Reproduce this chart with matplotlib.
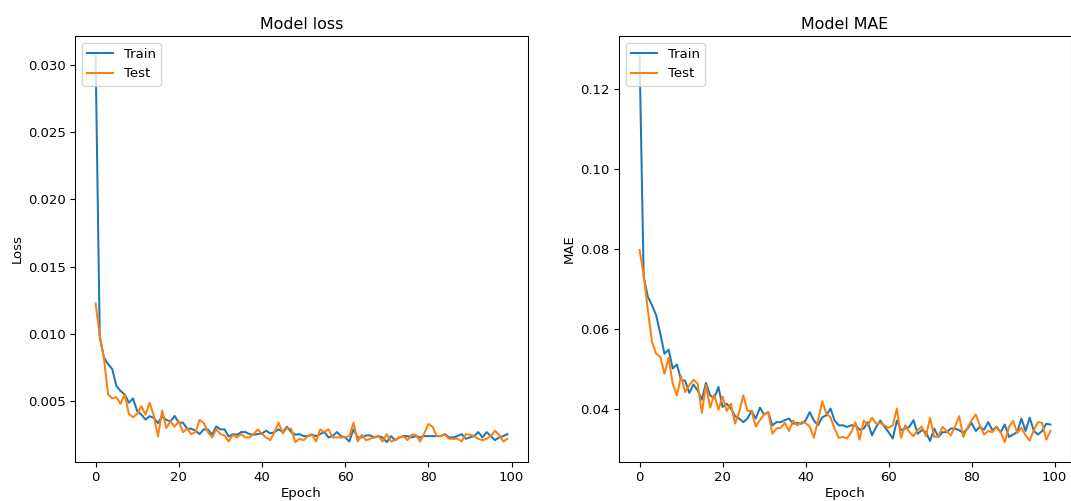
import matplotlib
matplotlib.use("Agg")
import matplotlib.pyplot as plt
import numpy as np

epochs = list(range(100))

train_loss = [
    0.0307, 0.00975, 0.00825, 0.00775, 0.00738, 0.00613, 0.00575, 0.0055, 0.00488, 0.0052,
    0.00425, 0.0040, 0.00363, 0.00388, 0.00375, 0.00337, 0.00388, 0.0036, 0.0035, 0.0039,
    0.0034, 0.0034, 0.00295, 0.00295, 0.0028, 0.00255, 0.0029, 0.0029, 0.0025, 0.00312,
    0.0029, 0.0029, 0.00237, 0.00255, 0.0025, 0.0027, 0.0027, 0.00255, 0.0025, 0.00255,
    0.0026, 0.0028, 0.0026, 0.0027, 0.0029, 0.0027, 0.0031, 0.0027, 0.0025, 0.00255,
    0.0024, 0.0024, 0.0025, 0.0024, 0.00255, 0.0027, 0.0023, 0.0024, 0.0027, 0.0024,
    0.0023, 0.0020, 0.0029, 0.0023, 0.0023, 0.00245, 0.00245, 0.0023, 0.0024, 0.0023,
    0.00195, 0.0024, 0.0021, 0.0023, 0.0024, 0.0024, 0.0023, 0.0024, 0.0023, 0.0024,
    0.0024, 0.0024, 0.0024, 0.0024, 0.00255, 0.0023, 0.0023, 0.0024, 0.00255, 0.0022,
    0.0023, 0.0024, 0.0027, 0.0023, 0.0027, 0.0024, 0.0021, 0.0023, 0.0024, 0.00255,
]

test_loss = [
    0.01226, 0.00988, 0.0082, 0.0055, 0.0052, 0.0053, 0.0048, 0.0055, 0.00405, 0.0038,
    0.00405, 0.00462, 0.0040, 0.00488, 0.0039, 0.00237, 0.0043, 0.0030, 0.0035, 0.0031,
    0.0035, 0.0027, 0.00295, 0.00255, 0.0027, 0.0036, 0.00337, 0.0027, 0.0023, 0.0029,
    0.00255, 0.00245, 0.0020, 0.0025, 0.0023, 0.00255, 0.0023, 0.0023, 0.00255, 0.0029,
    0.00255, 0.0023, 0.0021, 0.0027, 0.0034, 0.0026, 0.0030, 0.00295, 0.00195, 0.0022,
    0.0021, 0.0024, 0.00255, 0.0020, 0.0029, 0.0027, 0.0029, 0.0023, 0.0023, 0.0023,
    0.0023, 0.0024, 0.0034, 0.0020, 0.0025, 0.0021, 0.0022, 0.0023, 0.0024, 0.0020,
    0.00255, 0.0020, 0.0021, 0.0023, 0.0024, 0.0021, 0.0025, 0.0025, 0.0020, 0.0026,
    0.0033, 0.0031, 0.0024, 0.0024, 0.0025, 0.0022, 0.0022, 0.0022, 0.0020, 0.00255,
    0.0025, 0.0024, 0.0022, 0.0021, 0.0022, 0.0024, 0.0028, 0.0025, 0.0020, 0.0022,
]

train_mae = [
    0.1284, 0.0731, 0.0681, 0.0660, 0.0635, 0.0589, 0.0539, 0.0549, 0.0502, 0.0512,
    0.0474, 0.0471, 0.0441, 0.0462, 0.0447, 0.0424, 0.0466, 0.0435, 0.0427, 0.0456,
    0.0406, 0.0414, 0.0402, 0.0383, 0.0377, 0.0368, 0.0377, 0.0396, 0.0377, 0.0404,
    0.0387, 0.0393, 0.0360, 0.0368, 0.0368, 0.0373, 0.0377, 0.0364, 0.0366, 0.0364,
    0.0372, 0.0393, 0.0372, 0.0360, 0.0380, 0.0385, 0.0402, 0.0372, 0.0360, 0.0360,
    0.0356, 0.0360, 0.0360, 0.0349, 0.0352, 0.0368, 0.0335, 0.0356, 0.0372, 0.0357,
    0.0343, 0.0327, 0.0372, 0.0348, 0.0352, 0.0356, 0.0373, 0.0339, 0.0348, 0.0343,
    0.0321, 0.0352, 0.0331, 0.0343, 0.0343, 0.0352, 0.0352, 0.0348, 0.0341, 0.0352,
    0.0366, 0.0346, 0.0356, 0.0349, 0.0368, 0.0348, 0.0356, 0.0343, 0.0362, 0.0331,
    0.0337, 0.0343, 0.0377, 0.0346, 0.0379, 0.0346, 0.0337, 0.0346, 0.0364, 0.0362,
]

test_mae = [
    0.0798, 0.0735, 0.0648, 0.0568, 0.0539, 0.0531, 0.0489, 0.0529, 0.0464, 0.0435,
    0.0483, 0.0443, 0.0460, 0.0474, 0.0464, 0.0391, 0.0460, 0.0404, 0.0437, 0.0399,
    0.0432, 0.0396, 0.0414, 0.0364, 0.0393, 0.0435, 0.0396, 0.0396, 0.0357, 0.0373,
    0.0387, 0.0393, 0.0339, 0.0352, 0.0354, 0.0366, 0.0346, 0.0372, 0.0360, 0.0368,
    0.0366, 0.0357, 0.0329, 0.0372, 0.0420, 0.0390, 0.0380, 0.0352, 0.0329, 0.0331,
    0.0327, 0.0343, 0.0368, 0.0324, 0.0372, 0.0360, 0.0379, 0.0364, 0.0366, 0.0360,
    0.0354, 0.0360, 0.0402, 0.0329, 0.0360, 0.0343, 0.0333, 0.0348, 0.0357, 0.0333,
    0.0379, 0.0331, 0.0333, 0.0356, 0.0346, 0.0335, 0.0357, 0.0383, 0.0331, 0.0354,
    0.0373, 0.0387, 0.0360, 0.0337, 0.0346, 0.0343, 0.0357, 0.0343, 0.0318, 0.0356,
    0.0371, 0.0341, 0.0354, 0.0335, 0.0322, 0.0348, 0.0368, 0.0366, 0.0324, 0.0346,
]

plt.rcParams.update({
    "font.size": 9.5,
    "lines.linewidth": 1.45,
    "xtick.major.size": 3.3,
    "ytick.major.size": 3.3,
    "axes.linewidth": 0.75,
})

W, H = 1071, 501
fig = plt.figure(figsize=(W / 100, H / 100), dpi=100)

ax1 = fig.add_axes([75 / W, (H - 461.5) / H, 453 / W, 425.5 / H])
ax2 = fig.add_axes([619 / W, (H - 461.5) / H, 452 / W, 425.5 / H])

ax1.plot(epochs, train_loss, label="Train")
ax1.plot(epochs, test_loss, label="Test")
ax1.set_title("Model loss", pad=5)
ax1.set_ylabel("Loss", labelpad=3)
ax1.set_xlabel("Epoch", labelpad=2)
ax1.legend(loc="upper left")

ax2.plot(epochs, train_mae, label="Train")
ax2.plot(epochs, test_mae, label="Test")
ax2.set_title("Model MAE", pad=5)
ax2.set_ylabel("MAE", labelpad=3)
ax2.set_xlabel("Epoch", labelpad=2)
ax2.legend(loc="upper left")

fig.savefig("out.png", dpi=100)
